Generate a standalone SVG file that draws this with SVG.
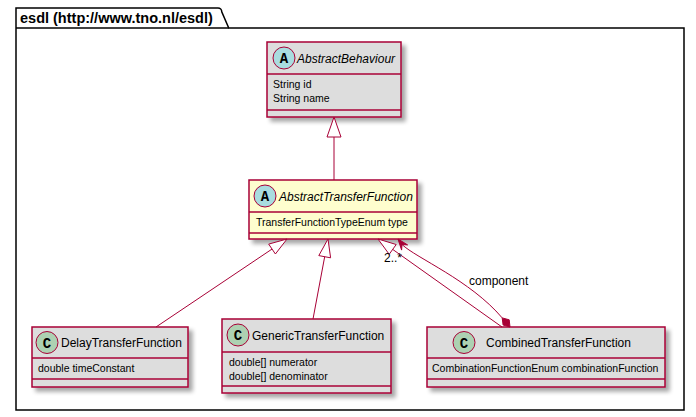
<svg xmlns="http://www.w3.org/2000/svg" width="696" height="417" viewBox="0 0 696 417">
<style>
.pkg{fill:none;stroke:#000;stroke-width:1.5}
.box{stroke:#A80036;stroke-width:1.5}
.gray{fill:#DDDDDD}
.yel{fill:#FEFECE}
.div{stroke:#A80036;stroke-width:1.5}
.name{font-family:"Liberation Sans",Arial,sans-serif;font-size:12px;fill:#000}
.it{font-style:italic}
.attr{font-family:"Liberation Sans",Arial,sans-serif;font-size:10.5px;fill:#000}
.circA{fill:#A9DCDF;stroke:#A80036;stroke-width:1}
.circC{fill:#ADD1B2;stroke:#A80036;stroke-width:1}
.letter{font-family:"Liberation Mono","DejaVu Sans Mono",monospace;font-weight:bold;font-size:14px;fill:#000;text-anchor:middle}
.lbl{font-family:"Liberation Sans",Arial,sans-serif;font-size:12px;fill:#000}
.ln{fill:none;stroke:#A80036;stroke-width:1}
.tri{fill:#FFFFFF;stroke:#A80036;stroke-width:1}
.fill{fill:#A80036;stroke:#A80036;stroke-width:1}
</style>
<defs>
<filter id="sh" x="-10%" y="-10%" width="130%" height="140%">
<feGaussianBlur in="SourceAlpha" stdDeviation="2"/>
<feOffset dx="4" dy="4" result="o"/>
<feComponentTransfer><feFuncA type="linear" slope="0.35"/></feComponentTransfer>
<feMerge><feMergeNode/><feMergeNode in="SourceGraphic"/></feMerge>
</filter>
</defs>
<rect width="696" height="417" fill="#FFFFFF"/>

<g id="package">
<path class="pkg" d="M16,28 L16,8 L218,8 A3.75,3.75 0 0 1 221.75,11.75 L228.75,28 L684,28 L684,410 L16,410 Z"/>
<line x1="16" y1="28" x2="228.75" y2="28" stroke="#000" stroke-width="1.5"/>
<text x="20" y="23" font-family="'Liberation Sans',Arial,sans-serif" font-size="14.5" font-weight="bold">esdl (http://www.tno.nl/esdl)</text>
</g>

<g id="AbstractBehaviour">
<rect class="box gray" x="267" y="42" width="134" height="75" filter="url(#sh)"/>
<circle class="circA" cx="284" cy="58" r="11"/>
<text class="letter" x="284" y="63">A</text>
<text class="name it" x="297" y="62.5">AbstractBehaviour</text>
<line class="div" x1="267" y1="74" x2="401" y2="74"/>
<text class="attr" x="273" y="88">String id</text>
<text class="attr" x="273" y="102">String name</text>
<line class="div" x1="267" y1="110" x2="401" y2="110"/>
</g>

<g id="AbstractTransferFunction">
<rect class="box yel" x="249" y="180" width="168" height="59" filter="url(#sh)"/>
<circle class="circA" cx="265" cy="196" r="11"/>
<text class="letter" x="265" y="201">A</text>
<text class="name it" x="279" y="200.5">AbstractTransferFunction</text>
<line class="div" x1="249" y1="212" x2="417" y2="212"/>
<text class="attr" x="256" y="226">TransferFunctionTypeEnum type</text>
<line class="div" x1="249" y1="233" x2="417" y2="233"/>
</g>

<g id="DelayTransferFunction">
<rect class="box gray" x="32" y="327" width="156" height="60" filter="url(#sh)"/>
<circle class="circC" cx="47" cy="342.5" r="11"/>
<text class="letter" x="47" y="347.5">C</text>
<text class="name" x="61" y="347">DelayTransferFunction</text>
<line class="div" x1="32" y1="358" x2="188" y2="358"/>
<text class="attr" x="38" y="372">double timeConstant</text>
<line class="div" x1="32" y1="379" x2="188" y2="379"/>
</g>

<g id="GenericTransferFunction">
<rect class="box gray" x="222" y="319" width="169" height="74" filter="url(#sh)"/>
<circle class="circC" cx="238" cy="335" r="11"/>
<text class="letter" x="238" y="340">C</text>
<text class="name" x="252" y="339.5">GenericTransferFunction</text>
<line class="div" x1="222" y1="352" x2="391" y2="352"/>
<text class="attr" x="229" y="366">double[] numerator</text>
<text class="attr" x="229" y="380">double[] denominator</text>
<line class="div" x1="222" y1="386" x2="391" y2="386"/>
</g>

<g id="CombinedTransferFunction">
<rect class="box gray" x="427" y="327" width="238" height="60" filter="url(#sh)"/>
<circle class="circC" cx="464" cy="342.5" r="11"/>
<text class="letter" x="464" y="347.5">C</text>
<text class="name" x="486" y="347">CombinedTransferFunction</text>
<line class="div" x1="427" y1="358" x2="665" y2="358"/>
<text class="attr" x="432" y="372">CombinationFunctionEnum combinationFunction</text>
<line class="div" x1="427" y1="379" x2="665" y2="379"/>
</g>

<g id="connectors">
<line class="ln" x1="334" y1="137" x2="334" y2="180"/>
<polygon class="tri" points="334,117 341,137 327,137"/>
<line class="ln" x1="272.1" y1="249" x2="156" y2="327"/>
<polygon class="tri" points="287,239 268.7,244.1 275.4,254"/>
<line class="ln" x1="324.7" y1="256.7" x2="313" y2="319"/>
<polygon class="tri" points="328,239 330.6,257.8 318.8,255.6"/>
<line class="ln" x1="392.7" y1="249.4" x2="502" y2="327"/>
<polygon class="tri" points="378,239 389.2,254.3 396.2,244.5"/>
<path class="ln" d="M402,244.5 C416,258 470,280 502.2,317.9"/>
<polygon class="fill" points="398,239 401.6,250.1 402,244.5 407.6,244.9"/>
<polygon class="fill" points="510,327 503.1,325 502.2,317.9 509.2,319.8"/>
<text class="lbl" x="469" y="285">component</text>
<text class="lbl" x="384" y="262">2..*</text>
</g>
</svg>
